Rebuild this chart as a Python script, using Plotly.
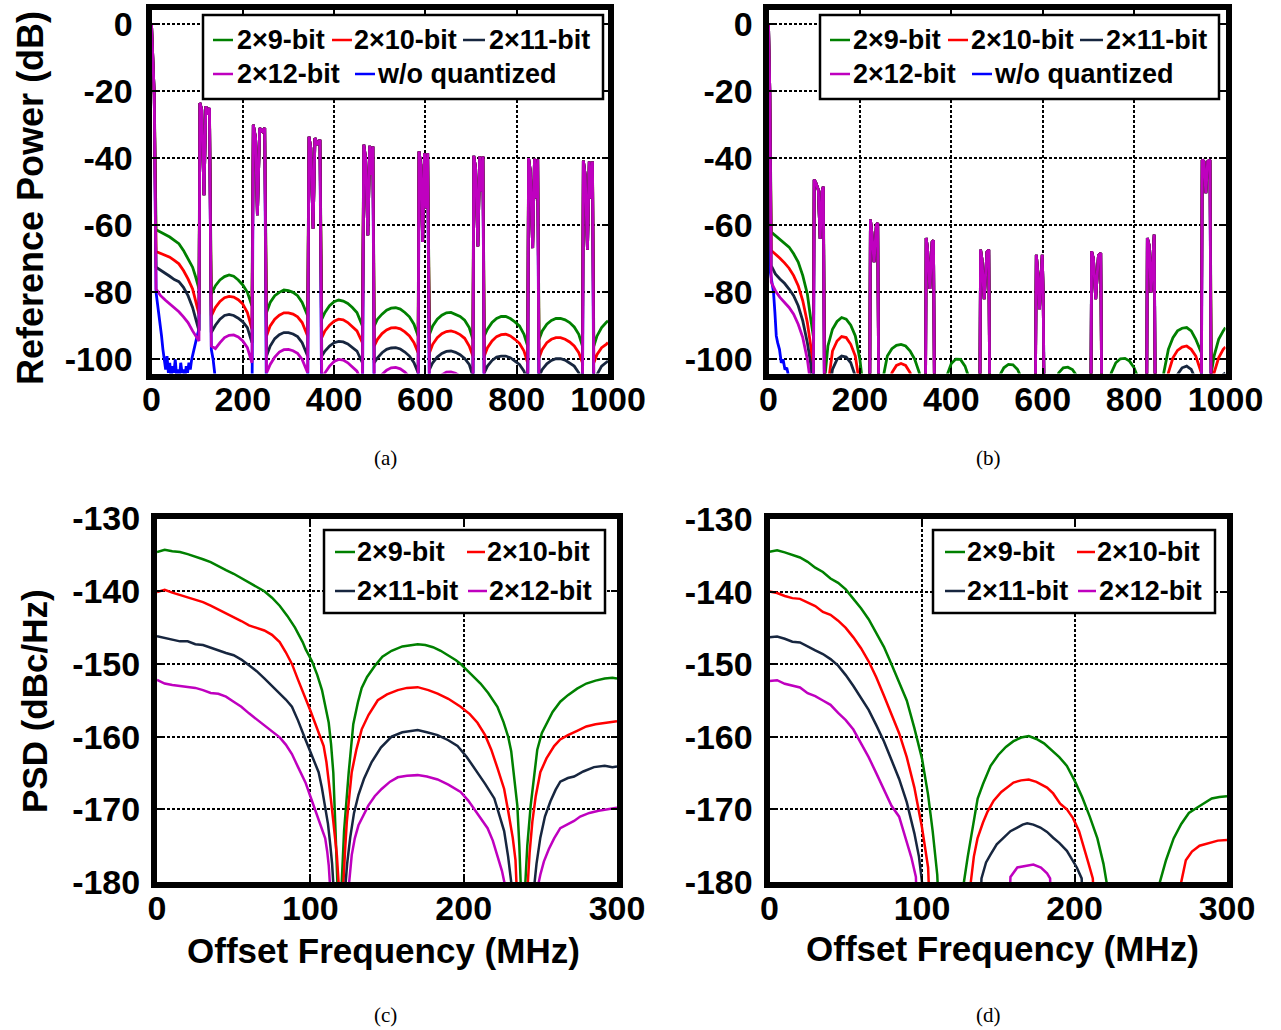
import numpy as np
import plotly.graph_objects as go

W, H = 1281, 1030
FONT = "Liberation Sans, Arial, sans-serif"
SERIF = "Liberation Serif, Times New Roman, serif"

def px(x):
    return x / W

def py(y):
    return 1 - y / H

# ---------------- Panel (a): reference power, 1000 MHz span ----------------
A_F = [10, 20, 30, 40, 50, 60, 70, 80, 90, 97, 104,
       131, 140, 150, 160, 170, 180, 190, 200, 210, 220,
       252, 260, 270, 280, 290, 300, 310, 320, 330, 342,
       373, 380, 390, 400, 410, 420, 430, 440, 450, 462,
       488, 495, 505, 515, 525, 535, 545, 555, 565, 575, 584,
       609, 616, 626, 636, 646, 656, 666, 676, 686, 696, 704,
       729, 736, 746, 756, 766, 776, 786, 796, 806, 816, 824,
       849, 856, 866, 876, 886, 896, 906, 916, 926, 936, 944,
       969, 976, 986, 996, 1000]
A_9 = [-61.3, -62, -62.8, -63.5, -64.5, -65.5, -67.5, -69.8, -72.5, -75.5, -79,
       -80.5, -78, -76.3, -75.3, -74.8, -75.2, -76.3, -77.8, -80, -84,
       -86, -83, -81, -80, -79.3, -79.5, -80, -81, -83, -87,
       -88, -86, -84, -82.8, -82.3, -82.6, -83.3, -84.5, -86, -90,
       -90, -88, -86.5, -85.3, -84.7, -84.6, -85, -86, -87.3, -89.5, -93,
       -92.5, -90, -88, -86.8, -86.1, -86, -86.5, -87.2, -88.3, -90.5, -94,
       -93, -91, -89, -87.8, -87.2, -87.2, -87.8, -88.8, -90, -92.5, -96,
       -94, -91.5, -89.5, -88.4, -87.8, -87.8, -88.2, -89, -90.3, -92.5, -96,
       -96, -93, -90.5, -89, -88.5]
A_10 = [-67.8, -68.3, -68.8, -69.5, -70.5, -71.5, -73.5, -76, -79, -82.5, -86.5,
        -87, -84.5, -82.7, -81.6, -81.2, -81.4, -82.2, -83.5, -86, -91,
        -93, -90, -88, -86.8, -86.1, -86.1, -86.5, -87.3, -89, -93,
        -93.5, -91.5, -89.8, -88.6, -88, -88.2, -89, -90.2, -91.5, -95,
        -96, -94, -92.3, -91.2, -90.6, -90.5, -90.9, -91.8, -93, -95, -98,
        -98, -95.5, -93.5, -92.3, -91.7, -91.5, -91.9, -92.6, -93.7, -96, -99,
        -99, -96.5, -94.5, -93.2, -92.6, -92.5, -93, -94, -95.2, -97.5, -101,
        -99.5, -97, -95, -94, -93.5, -93.5, -94, -94.8, -96, -98, -101,
        -101, -98.5, -96.5, -95.5, -95]
A_11 = [-72.5, -73.5, -74.3, -75.2, -76.2, -76.8, -78.5, -81, -84.5, -88, -91.5,
        -92, -89.8, -88, -86.9, -86.6, -86.9, -87.7, -88.8, -90.5, -95,
        -99, -96, -93.8, -92.6, -92, -92, -92.4, -93.2, -95, -99,
        -99, -97.5, -96, -95, -94.6, -94.8, -95.4, -96.5, -97.5, -101,
        -101, -99.5, -98, -97, -96.6, -96.5, -96.9, -97.8, -99, -101, -104,
        -103, -101, -99.3, -98.2, -97.6, -97.5, -97.9, -98.6, -99.7, -101.5, -105,
        -104, -102, -100.3, -99.3, -99, -99, -99.5, -100.5, -101.5, -103.5, -107,
        -105, -103, -101.3, -100.3, -99.8, -99.8, -100.2, -101, -102, -104, -107,
        -107, -104.5, -102, -101, -100.5]
A_12 = [-79, -81, -82.3, -83.4, -84.5, -85.8, -87.3, -89, -91.5, -93, -94.5,
        -96, -96.8, -95, -93.5, -92.8, -92.7, -93.3, -94.5, -96.5, -101,
        -104, -101.5, -99.3, -97.8, -97.1, -97, -97.4, -98.2, -100, -104,
        -106, -104, -102, -100.6, -100, -100.2, -101, -102.3, -103.5, -107,
        -108, -106.5, -104.5, -103.2, -102.5, -102.4, -102.8, -103.8, -105.2, -107.5, -110,
        -110, -108, -106, -104.6, -103.8, -103.7, -104.1, -105, -106.5, -108.5, -111,
        -112, -110, -108, -106.5, -105.8, -105.8, -106.3, -107.5, -109, -111, -113,
        -112, -110, -108.5, -107.3, -106.8, -106.8, -107.2, -108, -109.5, -111, -113,
        -113, -111, -109, -108, -107.5]
A_WO_F = [10, 14, 18, 22, 25, 28, 31, 34, 37, 40, 43, 46, 49, 52, 55, 58, 61, 64,
          67, 70, 73, 76, 79, 82, 85, 88, 91, 94, 97, 100, 104,
          131, 135, 140,
          220, 252, 342, 373, 462, 488, 584, 609, 704, 729, 824, 849, 944, 969, 1000]
A_WO = [-80, -84, -88, -93, -97, -100, -103, -99, -104, -101, -106, -102, -104, -100,
        -105, -103, -106, -101, -104, -103, -106, -102, -104, -101, -103, -100, -98,
        -96, -94, -93, -91,
        -97, -100, -106,
        -120, -120, -120, -120, -120, -120, -120, -120, -120, -120, -120, -120, -120, -120, -120]
# carrier and spurs shared by all traces in (a)
A_SPUR_F = [0, 6,
            106, 110, 115, 119, 123, 127,
            223, 228, 232, 237, 243, 248,
            345, 349, 354, 358, 364, 369,
            465, 469, 474, 478, 482, 485,
            586, 590, 594, 598, 602, 605,
            706, 710, 715, 719, 723, 726,
            826, 830, 835, 839, 843, 846,
            946, 950, 955, 959, 963, 966]
A_SPUR_V = [0, -21,
            -23.5, -25.5, -51, -24.5, -27, -25,
            -30, -34, -57, -31, -32, -31,
            -33.6, -37, -61, -34, -36, -34.5,
            -36, -40, -63, -36.3, -45, -36.5,
            -38, -42, -65, -38.5, -55, -38.5,
            -39.3, -43, -66.3, -39.5, -50, -39.5,
            -40, -44, -66.8, -40.2, -52, -40.3,
            -40.7, -45, -67.3, -41, -52, -41]

# ---------------- Panel (b) ----------------
B_F = [6, 15, 25, 35, 45, 55, 65, 75, 85, 92, 98,
       123, 130, 140, 150, 160, 170, 180, 190, 200, 210, 221,
       242, 250, 260, 270, 280, 290, 300, 310, 320, 330, 343,
       364, 370, 380, 390, 400, 410, 420, 430, 440, 450, 462,
       485, 495, 505, 515, 525, 535, 545, 555, 565, 575, 583,
       604, 615, 625, 635, 645, 655, 665, 675, 685, 695, 705,
       730, 740, 750, 760, 770, 780, 790, 800, 810, 820, 827,
       847, 855, 865, 875, 885, 895, 905, 915, 925, 935, 947,
       969, 975, 985, 995, 1000]
B_9 = [-62, -63, -64, -65.3, -66.5, -68.5, -71, -75, -80.5, -87.5, -93,
       -106, -96, -91, -88.7, -87.5, -88, -89.8, -93, -100, -115, -125,
       -125, -106, -99, -96.8, -95.8, -95.5, -96, -97.5, -100, -104, -125,
       -125, -125, -115, -105, -101.2, -99.9, -100, -102, -106, -115, -125,
       -125, -115, -105, -102.5, -101.5, -101.6, -103, -106, -115, -125, -125,
       -125, -120, -110, -104, -102.5, -102.3, -103, -105, -112, -125, -125,
       -125, -115, -104, -101, -99.8, -99.7, -100.5, -102.5, -106, -115, -125,
       -125, -115, -104, -97, -93.5, -91.5, -90.7, -90.5, -91.5, -94, -98,
       -104, -99, -94, -91.5, -90.5]
B_10 = [-67.5, -68.5, -69.8, -71.2, -72.8, -75, -78, -82.5, -89, -95.5, -103,
        -120, -108, -97.5, -94.5, -93.2, -93.5, -95.5, -99, -108, -120, -130,
        -130, -125, -112, -104, -101.8, -101.2, -101.8, -104, -112, -125, -130,
        -130, -130, -125, -115, -110, -108.5, -109, -112, -118, -125, -130,
        -130, -125, -115, -110, -108.5, -108.5, -110, -114, -120, -130, -130,
        -130, -125, -118, -112, -109.5, -109, -110, -113, -120, -130, -130,
        -130, -125, -113, -108.5, -106.5, -106.5, -107.5, -110, -115, -125, -130,
        -130, -125, -112, -104, -99.5, -97.3, -96.3, -96, -97, -99, -104,
        -110, -104, -99.5, -97, -96.3]
B_11 = [-72, -74.5, -76, -77.3, -79, -81, -84, -88.5, -95, -101, -112,
        -125, -112, -103, -100, -99, -99.3, -101, -105, -115, -125, -130,
        -130, -130, -125, -118, -112, -110, -111, -115, -122, -130, -130,
        -130, -130, -130, -125, -118, -115, -116, -120, -126, -130, -130,
        -130, -130, -125, -119, -116, -116, -118, -123, -130, -130, -130,
        -130, -130, -126, -120, -117, -116.5, -118, -122, -128, -130, -130,
        -130, -128, -120, -115, -113, -113, -114, -117, -122, -128, -130,
        -130, -130, -125, -115, -108, -104.5, -102.5, -102, -103, -106, -112,
        -120, -112, -107, -104.5, -104]
B_12 = [-77, -79.5, -81.5, -83, -84.5, -86.5, -89.5, -93.5, -100, -107, -115,
        -130, -125, -118, -114, -112, -112.5, -115, -120, -128, -130, -130,
        -130, -130, -128, -124, -121, -120, -121, -124, -128, -130, -130,
        -130, -130, -130, -130, -127, -125, -125.5, -128, -130, -130, -130,
        -130, -130, -130, -128, -126, -126, -128, -130, -130, -130, -130,
        -130, -130, -130, -129, -127, -126.5, -127.5, -130, -130, -130, -130,
        -130, -130, -128, -124, -122, -122, -123, -126, -130, -130, -130,
        -130, -130, -130, -126, -119, -115, -113.5, -113, -114, -117, -122,
        -130, -124, -119, -116, -115.5]
B_WO_F = [4, 8, 11, 14, 17, 20, 24, 28, 32, 36, 40, 44, 48,
          98, 123, 221, 242, 343, 364, 462, 485, 583, 604, 705, 730, 827, 847, 947, 969, 1000]
B_WO = [-74, -77, -80, -86, -93, -95, -97, -101, -100, -103, -102.5, -105, -112,
        -125, -125, -125, -125, -125, -125, -125, -125, -125, -125, -125, -125, -125, -125,
        -125, -125, -125]
B_SPUR_F = [0, 3,
            100, 104, 109, 113, 117, 120,
            223, 226, 231, 236, 239,
            345, 348, 353, 358, 361,
            464, 467, 472, 478, 482,
            586, 590, 593, 596, 599, 601,
            707, 711, 716, 722, 727,
            829, 833, 837, 842, 844,
            949, 953, 957, 961, 966]
B_SPUR_V = [0, -21,
            -46.4, -47.5, -49.4, -64, -50, -48.5,
            -58.3, -62, -71, -60, -59.3,
            -63.8, -67, -79, -65, -64.5,
            -67.3, -70, -82, -68, -67.3,
            -68.8, -75, -85, -75, -68.8, -80,
            -67.8, -70, -82, -69, -68.3,
            -63.8, -66, -80, -64, -62.8,
            -40.5, -41, -50.4, -41, -40.5]

# ---------------- Panel (c): PSD ----------------
C9_F = [0, 5, 10, 15, 20, 25, 30, 35, 40, 45, 50, 55, 60, 65, 70, 75, 80, 85, 90, 95,
        97, 101, 104.5, 107.6, 110, 112, 113.5, 115, 116.2, 117.3, 118,
        119, 120.5, 122, 125, 128, 131, 133.5, 137, 142, 147, 153, 160, 165, 170, 175,
        180, 185, 190, 195, 198, 204, 211, 216, 222, 226, 229, 231, 233, 235, 236.3,
        237.3, 238.5, 240, 241.5, 243.7, 246, 248, 251, 254.5, 258, 263, 268, 274, 280,
        286, 292, 297, 300]
C9 = [-134.6, -134.3, -134.5, -134.6, -134.9, -135.2, -135.6, -136, -136.6, -137.1,
      -137.6, -138.2, -138.7, -139.3, -140, -140.9, -142, -143.4, -145, -147,
      -148, -149.6, -151.5, -153.6, -156, -158.1, -161, -165, -171.7, -180, -188,
      -188, -180, -173, -165, -158.3, -155.3, -153.3, -151.8, -150.3, -149, -148.2,
      -147.6, -147.4, -147.3, -147.4,
      -147.7, -148.2, -148.8, -149.5, -150, -151.2, -152.7, -154, -155.9, -158, -160,
      -162, -165.5, -169.5, -175,
      -181, -188, -181, -175, -169.5, -165, -161.8, -159.5, -158, -156.6, -155.2,
      -154.3, -153.4, -152.7, -152.3, -152, -151.9, -152]
C10_F = [0, 5, 10, 15, 20, 25, 30, 35, 40, 45, 50, 55, 60, 65, 70, 75, 80, 84, 88, 92,
         96.8, 100, 103, 106, 108.7, 110.5, 112, 113.5, 115, 116.2, 117.3, 118.4, 119.5,
         120.8, 121.6, 122.7, 123.8, 125.5, 127, 130, 133.5, 138, 144, 150, 157, 163, 170,
         177, 183, 190, 198, 204, 209, 214, 218, 222, 226.4, 229, 232, 233.8, 235, 236,
         240.5, 241.6, 243, 244.8, 247, 250, 254, 259, 263, 268, 274, 280, 286, 292, 297, 300]
C10 = [-140.1, -139.8, -140.2, -140.5, -140.8, -141.1, -141.5, -142, -142.5, -143, -143.5,
       -144.1, -144.7, -145.1, -145.4, -146, -147, -148.4, -150, -152.2,
       -154.6, -156.4, -158.1, -159.8, -161.3, -163.5, -165.9, -168.8, -171.7, -174, -176.3,
       -180, -188,
       -188, -180, -175.5, -171.7, -168, -164.9, -161.8, -159, -157, -155, -154.2, -153.6,
       -153.3, -153.2,
       -153.6, -154.1, -154.8, -155.9, -156.9, -158.1, -159.8, -161.8, -164.3, -167.2,
       -170.2, -173.9, -177, -181, -188,
       -188, -181, -176, -171.7, -168.2, -164.9, -163, -161.3, -160.4, -159.8, -159.2,
       -158.6, -158.3, -158.1, -158, -157.9]
C11_F = [0, 5, 10, 15, 20, 25, 30, 35, 40, 45, 50, 55, 60, 65, 70, 75, 80, 84, 88, 92,
         96.8, 101, 105.4, 107.5, 109.7, 111.5, 113, 114.2, 115.2, 116,
         122, 122.7, 124, 126, 128.5, 131.4, 135, 140, 146, 153, 160, 165, 170, 176, 183,
         190, 196, 202, 209, 214, 220, 223, 226.4, 229, 231, 232,
         245, 245.8, 247.5, 250, 253, 256.6, 260, 263, 268, 272, 278, 285, 292, 297, 300]
C11 = [-146.2, -146.4, -146.6, -146.9, -146.9, -147.3, -147.4, -147.8, -148.2, -148.5,
       -148.8, -149.4, -150.2, -151, -152, -153, -154, -154.9, -155.9, -157.8,
       -160.4, -162.5, -164.9, -167, -169.5, -172, -174.9, -177.5, -181, -188,
       -188, -181, -177.5, -173.9, -170.5, -168, -165.8, -163.5, -161.5, -160, -159.4,
       -159.2, -159.1, -159.4, -159.8,
       -160.5, -161.3, -162.8, -164.9, -166.5, -168.5, -170.5, -173, -176.5, -180, -188,
       -188, -181, -177.5, -173.9, -171, -168.9, -167.3, -166.2, -165.7, -165.5, -164.8,
       -164.2, -164, -164.2, -164.1]
C12_F = [0, 5, 10, 15, 20, 25, 30, 35, 40, 45, 50, 55, 60, 65, 70, 75, 80, 84, 88, 92,
         96.8, 100, 103, 106.5, 109.7, 111, 112, 113, 113.8,
         124.2, 124.9, 127, 129, 131.4, 134.5, 137.8, 142, 146.5, 152, 157, 163, 170, 176,
         183, 190, 198, 203, 207, 211, 215.6, 219, 222, 225, 227.5, 228.5,
         247.3, 248, 250, 252.3, 255.5, 259, 263, 268, 272, 276, 282, 288, 294, 300]
C12 = [-152.2, -152.7, -152.9, -153, -153.1, -153.3, -153.6, -154, -154.1, -154.5,
       -155.2, -155.9, -156.8, -157.6, -158.4, -159.2, -160.1, -161.1, -162.4, -164.2,
       -166.3, -168.2, -170, -172, -174, -175.8, -177.7, -181, -188,
       -188, -181, -176.3, -174, -172.2, -170.8, -169.5, -168.2, -167.2, -166.2, -165.6,
       -165.4, -165.3, -165.5,
       -165.9, -166.6, -167.6, -168.8, -170, -171.2, -172.6, -174.3, -176.3, -178.5, -181, -188,
       -188, -181, -179, -177.2, -175.5, -174, -172.6, -172, -171.6, -171, -170.5, -170.2,
       -170, -169.8]

# ---------------- Panel (d): PSD ----------------
D9_F = [0, 5, 10, 15, 20, 25, 30, 35, 40, 45, 50, 55, 60, 65, 70, 75, 80, 85, 90, 95,
        100, 104, 107, 110, 111.5,
        126, 127.5, 130, 132, 134, 136.5, 140, 145, 150, 155, 160, 165, 170, 175, 180,
        185, 190, 195, 200, 205, 210, 215, 219, 221, 222.5,
        255, 256, 260, 265, 270, 275, 280, 285, 290, 295, 300]
D9 = [-134.5, -134.3, -134.6, -135, -135.3, -135.9, -136.7, -137.3, -138.2, -138.8,
      -139.7, -141, -142.3, -143.8, -145.6, -147.6, -150, -152.5, -155, -158.8,
      -163, -168, -173, -179, -186,
      -186, -180, -176.5, -174, -171, -168.5, -166.5, -164, -162.5, -161.4, -160.6,
      -160.1, -159.9, -160.3, -160.9,
      -161.9, -162.8, -164, -166, -168.3, -171, -174, -177.5, -180, -186,
      -186, -180, -177, -174, -172, -170.5, -169.8, -169.2, -168.5, -168.3, -168.2]
D10_F = [0, 5, 10, 15, 20, 25, 30, 35, 40, 45, 50, 55, 60, 65, 70, 75, 80, 85, 90, 95,
         100, 104, 105.5,
         131, 132, 134, 136.4, 140, 143, 147, 152, 160, 165, 170, 175, 182, 186, 190.6, 195,
         199, 203, 206, 209, 212, 213.5,
         268, 270, 273, 277, 282, 288, 294, 300]
D10 = [-140, -140.2, -140.6, -140.9, -141, -141.5, -142, -142.8, -143.2, -144, -145,
       -146.3, -147.8, -149.6, -151.8, -154.3, -157, -159.5, -162.8, -167,
       -172.5, -178, -186,
       -186, -180, -176.5, -174, -171.8, -170.3, -168.8, -167.6, -166.3, -166, -165.9,
       -166.2, -167, -167.8, -169.2, -170,
       -171.2, -173, -175, -177.3, -179.5, -186,
       -186, -180, -177, -175.8, -175, -174.6, -174.3, -174.2]
D11_F = [0, 5, 10, 15, 20, 25, 30, 35, 40, 45, 50, 55, 60, 65, 70, 75, 80, 85, 90, 95,
         98, 100, 101.5,
         138, 139, 142, 145, 149, 153.6, 158, 162.5, 166, 169, 173, 177.6, 182, 186, 190,
         195, 198, 201.5, 204.7, 206, 300]
D11 = [-146.3, -146.2, -146.5, -146.9, -147, -147.6, -148.1, -148.6, -149.3, -150.2,
       -151.5, -153, -154.6, -156.3, -158.4, -160.6, -163.2, -165.8, -169, -173.3,
       -176.5, -180, -186,
       -186, -179.5, -177.3, -176.2, -174.8, -173.9, -173, -172.5, -172.1, -171.9, -172.1,
       -172.5, -173.1, -173.9, -174.6,
       -175.7, -176.8, -178, -179.5, -186, -186]
D12_F = [0, 5, 10, 15, 20, 25, 30, 35, 40, 45, 50, 55, 60, 65, 70, 75, 80, 85, 90, 93,
         96, 97,
         157, 158, 162.5, 167, 173, 178, 182, 184, 185, 300]
D12 = [-152.3, -152.2, -152.7, -153, -153.2, -154, -154.4, -155, -155.6, -156.7,
       -157.7, -159, -160.8, -162.8, -165, -167.2, -169.5, -171, -174.5, -176.6,
       -179.3, -186,
       -186, -179.3, -178, -177.8, -177.6, -178, -178.8, -179.5, -186, -186]

COL = {"9": "#008000", "10": "#FF0000", "11": "#17263F", "12": "#BF00BF", "wo": "#0000FF"}
NAMES = {"9": "2×9-bit", "10": "2×10-bit", "11": "2×11-bit", "12": "2×12-bit",
         "wo": "w/o quantized"}


def with_spurs(fb, vb, fs, vs):
    f = np.array(list(fb) + list(fs), dtype=float)
    v = np.array(list(vb) + list(vs), dtype=float)
    o = np.argsort(f, kind="stable")
    return f[o], v[o]


fig = go.Figure()


def add(x, y, key, xa, ya, width):
    fig.add_trace(go.Scatter(x=x, y=y, mode="lines", name=NAMES[key],
                             line=dict(color=COL[key], width=width),
                             xaxis=xa, yaxis=ya, showlegend=False, hoverinfo="skip"))


for key, (fb, vb) in [("wo", (A_WO_F, A_WO)), ("9", (A_F, A_9)), ("10", (A_F, A_10)),
                      ("11", (A_F, A_11)), ("12", (A_F, A_12))]:
    f, v = with_spurs(fb, vb, A_SPUR_F, A_SPUR_V)
    add(f, v, key, "x", "y", 2.8)
for key, (fb, vb) in [("wo", (B_WO_F, B_WO)), ("9", (B_F, B_9)), ("10", (B_F, B_10)),
                      ("11", (B_F, B_11)), ("12", (B_F, B_12))]:
    f, v = with_spurs(fb, vb, B_SPUR_F, B_SPUR_V)
    add(f, v, key, "x2", "y2", 2.8)
for key, (fb, vb) in [("9", (C9_F, C9)), ("10", (C10_F, C10)), ("11", (C11_F, C11)),
                      ("12", (C12_F, C12))]:
    add(fb, vb, key, "x3", "y3", 2.5)
for key, (fb, vb) in [("9", (D9_F, D9)), ("10", (D10_F, D10)), ("11", (D11_F, D11)),
                      ("12", (D12_F, D12))]:
    add(fb, vb, key, "x4", "y4", 2.5)


LW = 6


def axis(domain, rng, tickvals, anchor, standoff):
    return dict(domain=domain, range=rng, tickmode="array", tickvals=tickvals,
                ticktext=[str(t) for t in tickvals], anchor=anchor,
                showline=True, linewidth=LW, linecolor="black", mirror="ticks",
                ticks="inside", ticklen=6, tickwidth=2, tickcolor="black",
                showgrid=True, gridcolor="black", gridwidth=1.6, griddash="3px,2px",
                zeroline=False, ticklabelstandoff=standoff,
                tickfont=dict(family=FONT, size=34, color="black", weight="bold"))


h = LW / 2
yA = [-104.2, 4.2]
XA_T = [0, 200, 400, 600, 800, 1000]
YA_T = [0, -20, -40, -60, -80, -100]
XC_T = [0, 100, 200, 300]
YC_T = [-130, -140, -150, -160, -170, -180]
fig.update_layout(
    width=W, height=H, margin=dict(l=0, r=0, t=0, b=0, autoexpand=False),
    paper_bgcolor="white", plot_bgcolor="white", showlegend=False,
    xaxis=axis([px(148.5 + h), px(611 - h)], [0, 1000], XA_T, "y", -9),
    yaxis=axis([py(376.5 - h), py(7 + h)], yA, YA_T, "x", 6),
    xaxis2=axis([px(765.5 + h), px(1228.5 - h)], [0, 1000], XA_T, "y2", -9),
    yaxis2=axis([py(376.5 - h), py(7 + h)], yA, YA_T, "x2", 3),
    xaxis3=axis([px(154 + h), px(620 - h)], [0, 300], XC_T, "y3", -9),
    yaxis3=axis([py(885 - h), py(515.5 + h)], [-180, -130], YC_T, "x3", 4),
    xaxis4=axis([px(766.5 + h), px(1230 - h)], [0, 300], XC_T, "y4", -9),
    yaxis4=axis([py(885 - h), py(516 + h)], [-180, -130], YC_T, "x4", 4),
)

shapes = []
annotations = []


def legend_box(x0, y0, x1, y1):
    shapes.append(dict(type="rect", xref="paper", yref="paper", x0=px(x0), x1=px(x1),
                       y0=py(y1), y1=py(y0), line=dict(color="black", width=2.5),
                       fillcolor="white", layer="above"))


def legend_item(lx0, lx1, y, key, tx, size=27):
    shapes.append(dict(type="line", xref="paper", yref="paper", x0=px(lx0), x1=px(lx1),
                       y0=py(y), y1=py(y), line=dict(color=COL[key], width=2.5),
                       layer="above"))
    annotations.append(dict(xref="paper", yref="paper", x=px(tx), y=py(y), text=NAMES[key],
                            showarrow=False, xanchor="left", yanchor="middle",
                            font=dict(family=FONT, size=size, color="black", weight="bold")))


legend_box(203, 15, 603, 99)
legend_item(213, 233, 40, "9", 235)
legend_item(332, 352, 40, "10", 352)
legend_item(463, 485, 40, "11", 487)
legend_item(213, 233, 74, "12", 235)
legend_item(355, 375, 74, "wo", 375)
legend_box(820, 15, 1219, 99)
legend_item(830, 850, 40, "9", 851)
legend_item(948, 968, 40, "10", 969)
legend_item(1080, 1103, 40, "11", 1104)
legend_item(830, 850, 74, "12", 851)
legend_item(972, 992, 74, "wo", 992)
legend_box(324, 530, 605, 613)
legend_item(335, 355, 552, "9", 355)
legend_item(467, 485, 552, "10", 485)
legend_item(335, 355, 591, "11", 355)
legend_item(468, 487, 591, "12", 487)
legend_box(933, 530, 1215, 613)
legend_item(945, 965, 552, "9", 965)
legend_item(1077, 1095, 552, "10", 1095)
legend_item(945, 965, 591, "11", 965)
legend_item(1078, 1096, 591, "12", 1097)


def label(x, y, text, size, angle=0, family=FONT, weight="bold"):
    annotations.append(dict(xref="paper", yref="paper", x=px(x), y=py(y), text=text,
                            showarrow=False, xanchor="center", yanchor="middle",
                            textangle=angle,
                            font=dict(family=family, size=size, color="black", weight=weight)))


label(30, 198, "Reference Power (dB)", 36, -90)
label(34, 701, "PSD (dBc/Hz)", 35, -90)
label(383, 950, "Offset Frequency (MHz)", 35)
label(1002, 948, "Offset Frequency (MHz)", 35)
label(385, 458, "(a)", 21, 0, SERIF, "normal")
label(988, 458, "(b)", 21, 0, SERIF, "normal")
label(385, 1015, "(c)", 21, 0, SERIF, "normal")
label(988, 1015, "(d)", 21, 0, SERIF, "normal")

fig.update_layout(shapes=shapes, annotations=annotations)
fig.write_html(
    "out.html",
    config={"displayModeBar": False},
    post_script=("document.documentElement.style.margin='0';"
                 "document.body.style.margin='0';document.body.style.padding='0';"
                 "document.documentElement.style.overflow='hidden';"
                 "document.body.style.overflow='hidden';"),
)
